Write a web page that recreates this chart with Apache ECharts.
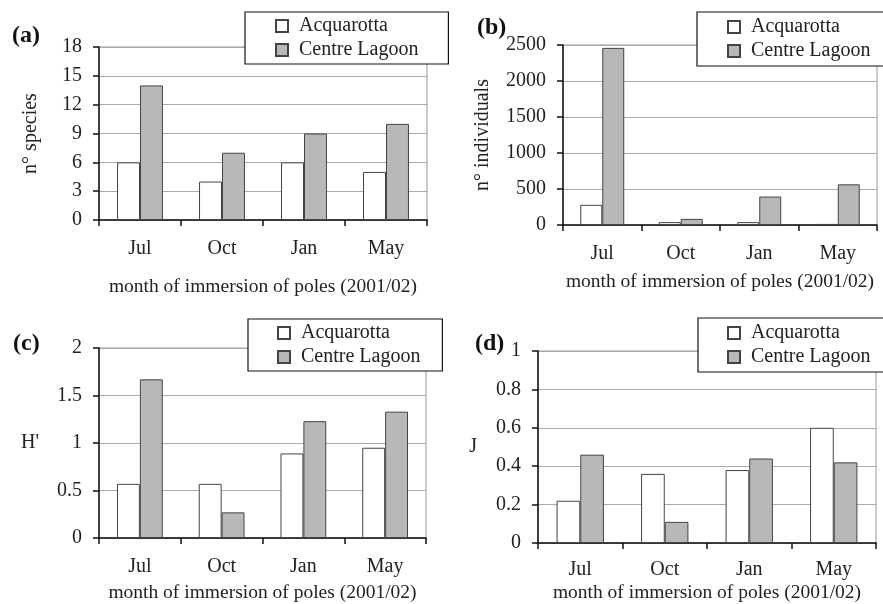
<!DOCTYPE html>
<html><head><meta charset="utf-8">
<script src="https://cdn.jsdelivr.net/npm/echarts@6/dist/echarts.min.js"></script>
<style>html,body{margin:0;padding:0;background:#fff}#c{width:883px;height:604px}</style>
</head><body><div id="c"></div>
<script>
const categories = ['Jul', 'Oct', 'Jan', 'May'];
const seriesNames = ['Acquarotta', 'Centre Lagoon'];
const speciesAcq = [6, 4, 6, 5];
const speciesCL = [14, 7, 9, 10];
const indivAcq = [280, 40, 40, 15];
const indivCL = [2460, 85, 395, 565];
const hAcq = [0.57, 0.57, 0.89, 0.95];
const hCL = [1.67, 0.27, 1.23, 1.33];
const jAcq = [0.22, 0.36, 0.38, 0.60];
const jCL = [0.46, 0.11, 0.44, 0.42];
const panelLabels = ['(a)', '(b)', '(c)', '(d)'];
const yNames = ['n° species', 'n° individuals', "H'", 'J'];
const xName = 'month of immersion of poles (2001/02)';
const yMax = [18, 2500, 2, 1];
const yStep = [3, 500, 0.5, 0.2];

const FONT = 'Liberation Serif';
const grids = [
  {left: 99, top: 47, width: 328, height: 173},
  {left: 563, top: 45, width: 314, height: 180},
  {left: 99, top: 348, width: 327, height: 195},
  {left: 538, top: 351, width: 338, height: 194}
];
const xNameGap = [57, 47, 45, 40];
const xLabelMargin = [19, 19, 19, 17];
const yNameGap = [58, 70, 60, 61];
const legendPos = [
  {left: 245, top: 12},
  {left: 697, top: 12},
  {left: 248, top: 319},
  {left: 698, top: 318}
];
const legendPad = [[4, 30, 4, 30], [5, 30, 5, 30], [4, 22, 4, 29], [5, 30, 5, 29]];
const labelPos = [[7, 19], [472, 11], [8, 327], [470, 327]];
const data = [[speciesAcq, speciesCL], [indivAcq, indivCL], [hAcq, hCL], [jAcq, jCL]];

const option = {
  animation: false,
  backgroundColor: '#fff',
  textStyle: {fontFamily: FONT, color: '#222'},
  title: panelLabels.map((t, i) => ({
    text: t, left: labelPos[i][0], top: labelPos[i][1],
    textStyle: {fontFamily: FONT, fontSize: 24, fontWeight: 'bold', color: '#111'}
  })),
  grid: grids.map(g => Object.assign({show: true, borderColor: '#999', borderWidth: 1, backgroundColor: 'transparent'}, g)),
  legend: legendPos.map((p, i) => ({
    data: seriesNames.map(n => ({name: n, icon: 'rect'})),
    left: p.left, top: p.top,
    orient: 'vertical',
    backgroundColor: '#fff', borderColor: '#111', borderWidth: 1.2,
    padding: legendPad[i],
    itemGap: 4, itemWidth: 12, itemHeight: 12,
    textStyle: {fontFamily: FONT, fontSize: 20, color: '#222', padding: [0, 0, 0, 6]},
    seriesIndex: [2 * i, 2 * i + 1],
    selectedMode: false
  })),
  xAxis: grids.map((g, i) => ({
    type: 'category', gridIndex: i, data: categories,
    name: xName, nameLocation: 'middle', nameGap: xNameGap[i],
    nameTextStyle: {fontFamily: FONT, fontSize: 19.5, color: '#222'},
    axisLine: {lineStyle: {color: '#111', width: 1.5}},
    axisTick: {show: true, length: 6, lineStyle: {color: '#111', width: 1.5}},
    axisLabel: {fontFamily: FONT, fontSize: 20, color: '#222', margin: xLabelMargin[i]},
    splitLine: {show: false}
  })),
  yAxis: grids.map((g, i) => ({
    type: 'value', gridIndex: i, min: 0, max: yMax[i], interval: yStep[i],
    name: yNames[i], nameLocation: 'middle', nameGap: yNameGap[i],
    nameRotate: i < 2 ? 90 : 0,
    nameTextStyle: {fontFamily: FONT, fontSize: 20, color: '#222'},
    axisLine: {show: true, lineStyle: {color: '#111', width: 1.5}},
    axisTick: {show: true, length: 6, lineStyle: {color: '#111', width: 1.5}},
    axisLabel: {fontFamily: FONT, fontSize: 20, color: '#222', margin: 17, formatter: v => String(v)},
    splitLine: {show: true, lineStyle: {color: '#aaa', width: 1}}
  })),
  series: []
};
data.forEach((pair, i) => {
  pair.forEach((vals, k) => {
    option.series.push({
      type: 'bar', name: seriesNames[k], xAxisIndex: i, yAxisIndex: i,
      data: vals, barGap: '0%', barCategoryGap: '44%',
      itemStyle: {color: k === 0 ? '#ffffff' : '#b8b8b8', borderColor: '#444', borderWidth: 1}
    });
  });
});
echarts.init(document.getElementById('c'), null, {renderer: 'canvas'}).setOption(option);
</script></body></html>
